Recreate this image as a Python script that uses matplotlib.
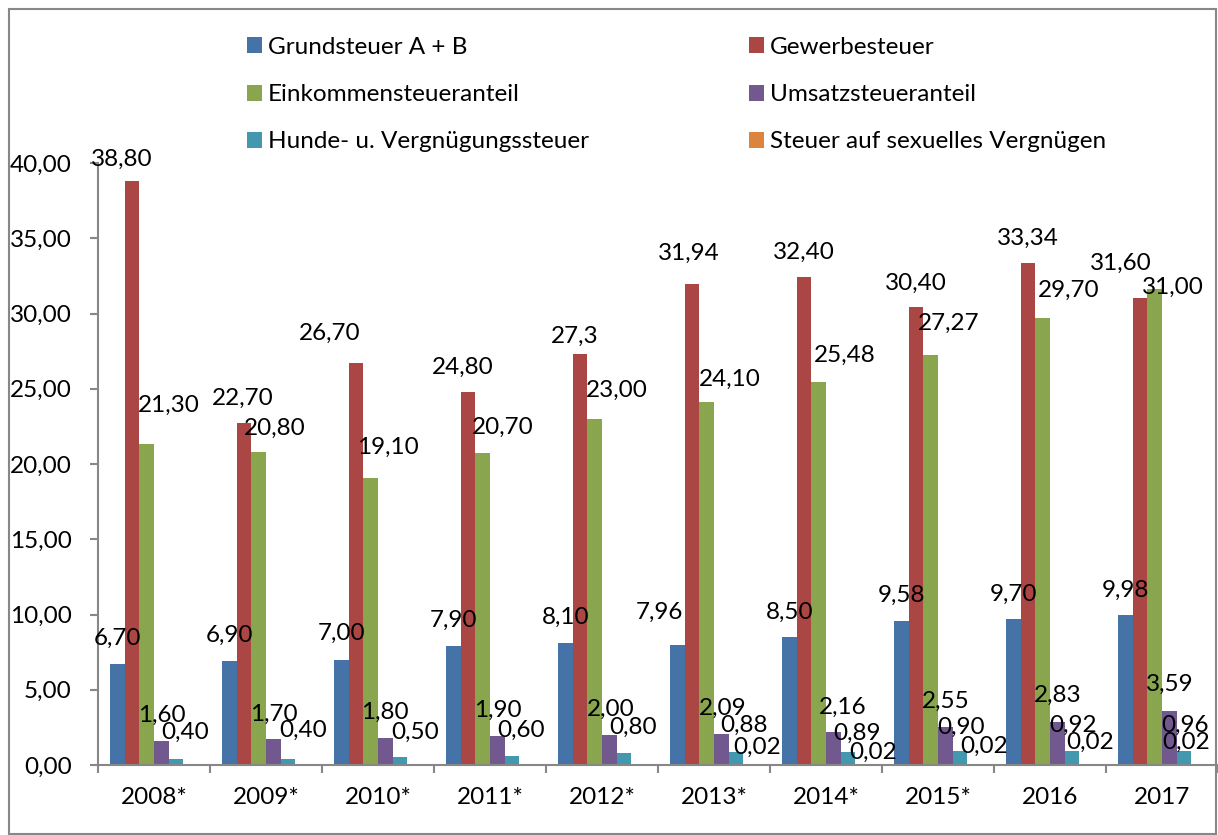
import matplotlib
matplotlib.use('Agg')
import matplotlib.pyplot as plt
import numpy as np
from matplotlib.patches import Rectangle

# ---------------------------------------------------------------- data
years = ['2008*', '2009*', '2010*', '2011*', '2012*', '2013*', '2014*', '2015*', '2016', '2017']
names = ['Grundsteuer A + B', 'Gewerbesteuer', 'Einkommensteueranteil',
         'Umsatzsteueranteil', 'Hunde- u. Vergnügungssteuer', 'Steuer auf sexuelles Vergnügen']

grundsteuer = [6.70, 6.90, 7.00, 7.90, 8.10, 7.96, 8.50, 9.58, 9.70, 9.98]
gewerbesteuer = [38.80, 22.70, 26.70, 24.80, 27.30, 31.94, 32.40, 30.40, 33.34, 31.00]
einkommen = [21.30, 20.80, 19.10, 20.70, 23.00, 24.10, 25.48, 27.27, 29.70, 31.60]
umsatz = [1.60, 1.70, 1.80, 1.90, 2.00, 2.09, 2.16, 2.55, 2.83, 3.59]
hunde = [0.40, 0.40, 0.50, 0.60, 0.80, 0.88, 0.89, 0.90, 0.92, 0.96]
sex_steuer = [None, None, None, None, None, 0.02, 0.02, 0.02, 0.02, 0.02]

# label texts as printed in the chart
grund_lbl = ['6,70', '6,90', '7,00', '7,90', '8,10', '7,96', '8,50', '9,58', '9,70', '9,98']
gewerbe_lbl = ['38,80', '22,70', '26,70', '24,80', '27,3', '31,94', '32,40', '30,40', '33,34', '31,60']
eink_lbl = ['21,30', '20,80', '19,10', '20,70', '23,00', '24,10', '25,48', '27,27', '29,70', '31,00']
ums_lbl = ['1,60', '1,70', '1,80', '1,90', '2,00', '2,09', '2,16', '2,55', '2,83', '3,59']
hunde_lbl = ['0,40', '0,40', '0,50', '0,60', '0,80', '0,88', '0,89', '0,90', '0,92', '0,96']
sex_lbl = ['', '', '', '', '', '0,02', '0,02', '0,02', '0,02', '0,02']

values = [grundsteuer, gewerbesteuer, einkommen, umsatz, hunde, sex_steuer]
labels = [grund_lbl, gewerbe_lbl, eink_lbl, ums_lbl, hunde_lbl, sex_lbl]

# ---------------------------------------------------------------- style
colors = ['#4572A7', '#AA4643', '#89A54E', '#71588F', '#4198AF', '#DB843D']
FONT = ['Lato', 'DejaVu Sans']
FS = 17.5
GRAY = '#878787'

# label shifts in pixels (dx, height of label centre above the bar top)
lbl_dx = [[0, 0, 0, 0, 0, -18, 0, 0, 0, 0],
          [-10, -1, -26, -5, -5, -3, 0, 0, 0, -19],
          [22, 16, 17, 20, 22, 23, 26, 18, 26, 18],
          [1, 1, 0, 1, 1, 1, 9, 0, 0, 0],
          [9, 15, 15, 9, 9, 8, 9, 1, 1, 1],
          [0, 0, 0, 0, 0, 6, 10, 9, 3, -13]]
lbl_dy = [[28, 28, 28, 28, 28, 35, 27, 27, 27, 26],
          [24, 27, 32, 26, 20, 33, 27, 26, 27, 37],
          [41, 26, 32, 28, 31, 25, 28, 33, 30, 4],
          [28, 27, 28, 28, 28, 27, 27, 27, 29, 29],
          [29, 31, 27, 28, 28, 28, 20, 26, 28, 27],
          [0, 0, 0, 0, 0, 19, 14, 20, 24, 24]]

W, H = 1218, 835
fig = plt.figure(figsize=(W / 100, H / 100), dpi=100)
ax = fig.add_axes([98 / W, 70 / H, 1120 / W, 602 / H])

x = np.arange(len(years))
bw = 14.67 / 112
bars = []
for j, vals in enumerate(values):
    v = np.array([np.nan if a is None else a for a in vals], dtype=float)
    xs = x + (j - 2.5) * bw
    ok = ~np.isnan(v)
    b = ax.bar(xs[ok], v[ok], width=bw, color=colors[j], edgecolor='none', label=names[j])
    bars.append(b)
    for i in range(len(years)):
        if not ok[i] or labels[j][i] == '':
            continue
        ax.annotate(labels[j][i], (xs[i], v[i]),
                    xytext=(lbl_dx[j][i], lbl_dy[j][i] - 8.5), textcoords='offset pixels',
                    ha='center', va='baseline', fontsize=FS, family=FONT, color='black',
                    annotation_clip=False)

ax.set_xlim(-0.5, 9.5)
ax.set_ylim(0, 40)

ax.set_yticks(np.arange(0, 45, 5))
ax.set_yticklabels([('%.2f' % t).replace('.', ',') for t in np.arange(0, 45, 5)],
                   fontsize=FS, family=FONT)
ax.set_xticks(x)
ax.set_xticklabels(years, fontsize=FS, family=FONT)
ax.set_xticks(np.arange(-0.5, 10, 1), minor=True)
ax.tick_params(axis='x', which='major', length=0, pad=16)
ax.tick_params(axis='x', which='minor', length=6, width=1.5, color=GRAY, direction='out')
ax.tick_params(axis='y', which='major', length=6, width=1.5, color=GRAY, pad=13)

for s in ['top', 'right']:
    ax.spines[s].set_visible(False)
for s in ['left', 'bottom']:
    ax.spines[s].set_color(GRAY)
    ax.spines[s].set_linewidth(1.5)

# legend: two columns placed like the original (row-wise order)
leg_kw = dict(frameon=False, prop={'family': FONT, 'size': FS}, handlelength=0.6,
              handleheight=0.63, handletextpad=0.25, labelspacing=1.08,
              borderpad=0, borderaxespad=0, loc='upper left')
leg1 = fig.legend([bars[0], bars[2], bars[4]], [names[0], names[2], names[4]],
                  bbox_to_anchor=(247 / W, 1 - 37 / H), **leg_kw)
leg2 = fig.legend([bars[1], bars[3], bars[5]], [names[1], names[3], names[5]],
                  bbox_to_anchor=(749 / W, 1 - 37 / H), **leg_kw)

# outer frame of the chart
fig.patches.append(Rectangle((9 / W, 1 / H), 1207 / W, 825 / H, transform=fig.transFigure,
                             fill=False, edgecolor=GRAY, linewidth=1.5))

fig.savefig('out.png', dpi=100)
